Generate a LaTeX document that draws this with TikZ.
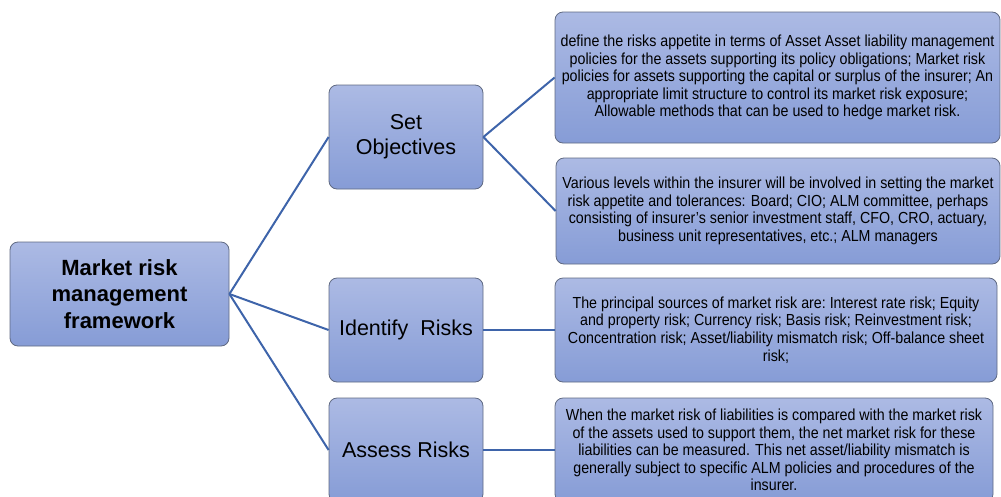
\documentclass[tikz,border=0pt]{standalone}
\usepackage{fontspec}
\setmainfont{Liberation Sans}
\newfontfamily\narrowfont{Liberation Sans}[FakeStretch=0.89]
\usepackage{tikz}
\usepackage{xcolor}

\definecolor{boxtop}{RGB}{172,186,228}
\definecolor{boxbottom}{RGB}{134,156,214}
\definecolor{boxline}{RGB}{95,105,130}
\definecolor{linkblue}{RGB}{62,100,170}

\begin{document}
\begin{tikzpicture}[x=1pt, y=-1pt,
    box/.style={draw=boxline, line width=0.8pt, rounded corners=8pt,
        top color=boxtop, bottom color=boxbottom, inner sep=0pt, align=center},
    detail/.style={box, font=\narrowfont\fontsize{16}{17.6}\selectfont},
    link/.style={draw=linkblue, line width=2pt}]
    \useasboundingbox (0,0) rectangle (1001,496);

    % Framework
    \node[box, minimum width=219pt, minimum height=104pt,
        font=\bfseries\fontsize{22}{26.5}\selectfont] (framework) at (119.5,294)
        {Market risk\\management\\framework};

    % Steps
    \node[box, minimum width=154pt, minimum height=104pt,
        font=\fontsize{21.5}{25}\selectfont] (objectives) at (406,137) {Set\\Objectives};
    \node[box, minimum width=154pt, minimum height=104pt,
        font=\fontsize{21.5}{25}\selectfont] (identify) at (406,330) {Identify\ \ Risks};
    \node[box, minimum width=154pt, minimum height=104pt,
        font=\fontsize{21.5}{25}\selectfont] (assess) at (406,450) {Assess\ Risks};

    % Details
    \node[detail, minimum width=445pt, minimum height=131pt] (appetite) at (777.5,77.5)
        {define the risks appetite in terms of Asset Asset\ liability management\\
         policies for the assets supporting its policy obligations; Market risk\\
         policies for assets supporting the capital or surplus of the insurer; An\\
         appropriate limit structure to control its market risk exposure;\\
         Allowable methods that can be used to\ hedge market risk.};
    \node[detail, minimum width=444pt, minimum height=106pt] (levels) at (778,211)
        {Various levels within the insurer will be involved in setting the market\\
         risk appetite and tolerances: Board; CIO; ALM committee, perhaps\\
         consisting of insurer’s senior investment staff, CFO, CRO, actuary,\\
         business unit representatives, etc.; ALM managers};
    \node[detail, minimum width=442pt, minimum height=104pt] (sources) at (776,330)
        {The principal sources of market risk are:\ Interest rate risk; Equity\\
         and property risk;\ Currency risk; Basis risk;\ Reinvestment risk;\\
         Concentration risk; Asset/liability mismatch risk; Off-balance sheet\\
         risk;};
    \node[detail, minimum width=438pt, minimum height=104pt] (mismatch) at (774,450)
        {When the market risk of liabilities is compared with the market risk\\
         of the assets used to\ support them, the net market risk for these\\
         liabilities can be measured. This net asset/liability mismatch is\\
         generally subject to specific ALM policies and procedures of the\\
         insurer.};

    % Links
    \draw[link] (framework.east) -- (objectives.west);
    \draw[link] (framework.east) -- (identify.west);
    \draw[link] (framework.east) -- (assess.west);
    \draw[link] (objectives.east) -- (appetite.west);
    \draw[link] (objectives.east) -- (levels.west);
    \draw[link] (identify.east) -- (sources.west);
    \draw[link] (assess.east) -- (mismatch.west);
\end{tikzpicture}
\end{document}
